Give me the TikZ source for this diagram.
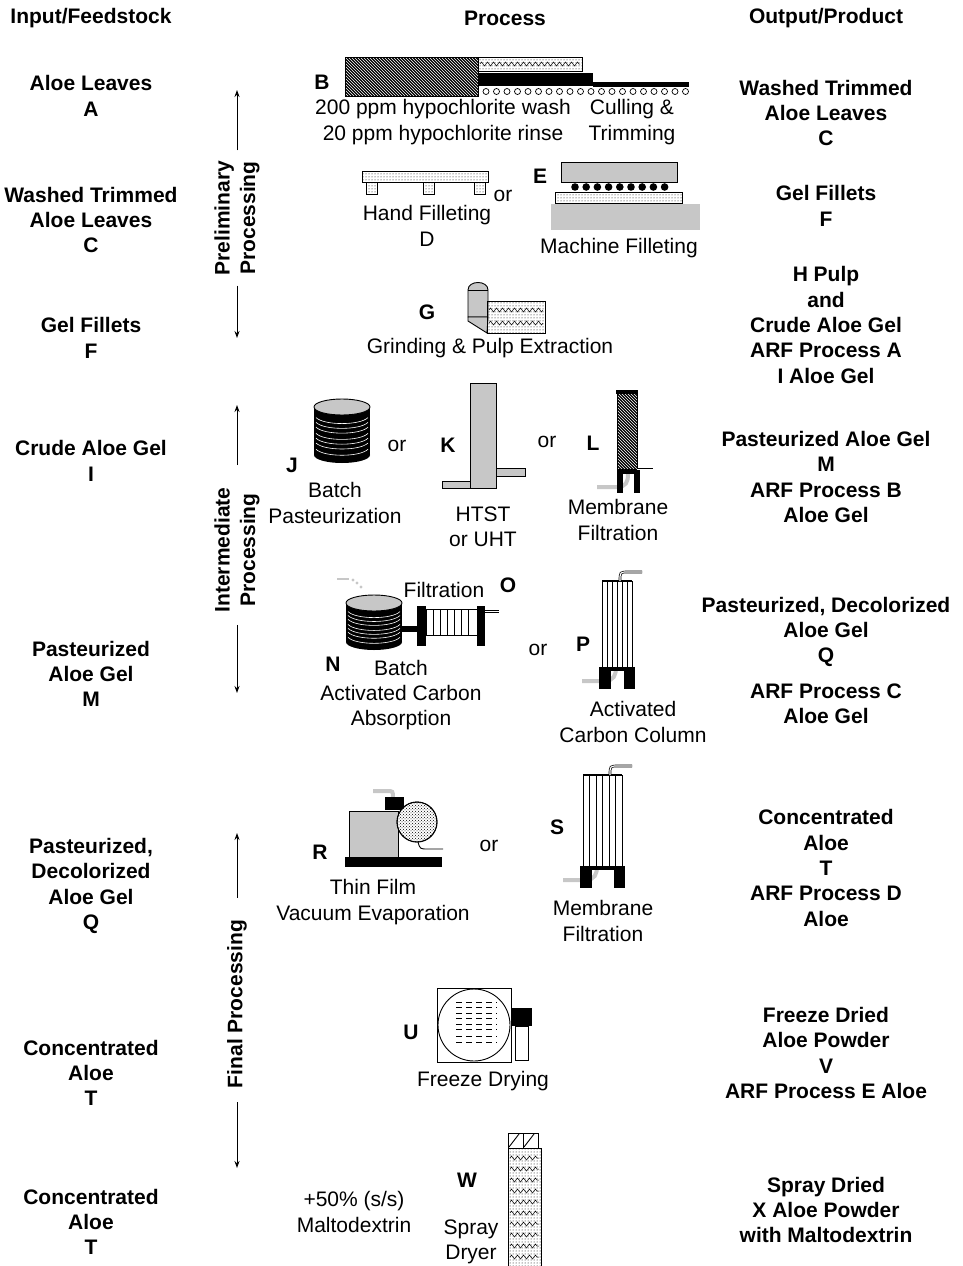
\documentclass[tikz,border=0pt]{standalone}
\usepackage{fontspec}
\setmainfont{Liberation Sans}
\usetikzlibrary{patterns,decorations.pathmorphing,arrows.meta}
\definecolor{eqgray}{gray}{0.78}

\begin{document}
\begin{tikzpicture}[x=1pt, y=-1pt, line width=0.9pt, >={Stealth[length=7pt,width=5pt]},
    txt/.style = {align=center, inner sep=0pt, font=\fontsize{21}{25.3}\selectfont},
    bold/.style = {txt, font=\fontsize{21}{25.3}\selectfont\bfseries},
    stage/.style = {bold, rotate=90},
    zz/.style = {decorate, decoration={zigzag, segment length=6pt, amplitude=2pt}, line width=0.5pt}]

    \useasboundingbox (0,0) rectangle (962,1266);

    % column heads
    \node[bold] (hIn) at (91,18) {Input/Feedstock};
    \node[bold] (hPr) at (505,18) {Process};
    \node[bold] (hOut) at (826,18) {Output/Product};

    % inputs
    \node[bold] (inA) at (91,96) {Aloe Leaves\\A};
    \node[bold] (inC) at (91,220) {Washed Trimmed\\Aloe Leaves\\C};
    \node[bold] (inF) at (91,338) {Gel Fillets\\F};
    \node[bold] (inI) at (91,461) {Crude Aloe Gel\\I};
    \node[bold] (inM) at (91,674) {Pasteurized\\Aloe Gel\\M};
    \node[bold] (inQ) at (91,886) {Pasteurized,\\Decolorized\\Aloe Gel\\Q};
    \node[bold] (inT) at (91,1073) {Concentrated\\Aloe\\T};
    \node[bold] (inTb) at (91,1222) {Concentrated\\Aloe\\T};

    % outputs
    \node[bold] (outC) at (826,113) {Washed Trimmed\\Aloe Leaves\\C};
    \node[bold] (outF) at (826,206) {Gel Fillets\\F};
    \node[bold] (outI) at (826,325) {H Pulp\\and\\Crude Aloe Gel\\ARF Process A\\I Aloe Gel};
    \node[bold] (outM) at (826,477) {Pasteurized Aloe Gel\\M\\ARF Process B\\Aloe Gel};
    \node[bold] (outQ) at (826,632) {Pasteurized, Decolorized\\Aloe Gel\\Q};
    \node[bold] (outQb) at (826,704) {ARF Process C\\Aloe Gel};
    \node[bold] (outT) at (826,868) {Concentrated\\Aloe\\T\\ARF Process D\\Aloe};
    \node[bold] (outV) at (826,1053) {Freeze Dried\\Aloe Powder\\V\\ARF Process E Aloe};
    \node[bold] (outX) at (826,1210) {Spray Dried\\X Aloe Powder\\with Maltodextrin};

    % stages
    \node[stage] (stP) at (237,218) {Preliminary\\Processing};
    \node[stage] (stI) at (237,550) {Intermediate\\Processing};
    \node[stage] (stF) at (237,1004) {Final Processing};
    \coordinate (pU) at (237,90);
    \coordinate (pD) at (237,338);
    \coordinate (iU) at (237,405);
    \coordinate (iD) at (237,693);
    \coordinate (fU) at (237,833);
    \coordinate (fD) at (237,1168);
    \draw[->] ([yshift=10pt]stP.east) -- (pU);
    \draw[->] ([yshift=-10pt]stP.west) -- (pD);
    \draw[->] ([yshift=22pt]stI.east) -- (iU);
    \draw[->] ([yshift=-12pt]stI.west) -- (iD);
    \draw[->] ([yshift=22pt]stF.east) -- (fU);
    \draw[->] ([yshift=-14pt]stF.west) -- (fD);

    % B washing and trimming
    \node[bold] (lB) at (322,82) {B};
    \draw[preaction={fill=black}, pattern=north west lines, pattern color=white] (345,57) rectangle (478,96);
    \draw[pattern=dots] (478,57) rectangle (582,71);
    \draw[zz] (480,64) -- (580,64);
    \fill (478,73) rectangle (593,86);
    \fill (593,82) rectangle (689,87);
    \foreach \i in {0,...,19}
        \draw[line width=0.7pt] (486+\i*10.5,91.5) circle (3pt);
    \node[txt] (tB1) at (443,122) {200 ppm hypochlorite wash\\20 ppm hypochlorite rinse};
    \node[txt] (tB2) at (632,122) {Culling \&\\Trimming};

    % D hand filleting
    \draw[pattern=dots] (362,171) rectangle (488,182);
    \foreach \x in {366,423,474}
        \draw[pattern=dots] (\x,182) rectangle ++(11,12);
    \node[txt] (tD) at (427,226) {Hand Filleting\\D};
    \node[txt] (or1) at (503,196) {or};

    % E machine filleting
    \node[bold] (lE) at (540,176) {E};
    \draw[fill=eqgray] (561,162) rectangle (677,182);
    \foreach \i in {0,...,8}
        \fill (575+\i*11.2,187) circle (3.8pt);
    \draw[pattern=dots] (555,192) rectangle (682,203);
    \fill[eqgray] (551,204) rectangle (700,230);
    \node[txt] (tE) at (619,248) {Machine Filleting};

    % G grinding
    \node[bold] (lG) at (427,312) {G};
    \draw[fill=eqgray] (468,317) -- (468,290) .. controls (468,280) and (488,280) .. (488,290) -- (488,317) -- cycle;
    \draw (468,290) -- (488,290);
    \draw[fill=eqgray] (468,317) -- (468,321) -- (487,333) -- (488,317) -- cycle;
    \draw[pattern=dots] (487,301) rectangle (545,333);
    \draw[zz] (489,310) -- (543,310);
    \draw[zz] (489,323) -- (543,323);
    \node[txt] (tG) at (490,348) {Grinding \& Pulp Extraction};

    % J and N batch tanks
    \foreach \cx/\cy/\h in {342/407/48, 374/603/39} {
        \fill ({\cx-28},\cy) rectangle ({\cx+28},{\cy+\h});
        \fill (\cx,{\cy+\h}) ellipse [x radius=28pt, y radius=8pt];
        \foreach \f in {0.22,0.32,0.42,0.55,0.65,0.75,0.88}
            \draw[white, line width=0.6pt] ({\cx-26},{\cy+\f*\h}) .. controls ({\cx-18},{\cy+\f*\h+8}) and ({\cx+18},{\cy+\f*\h+8}) .. ({\cx+26},{\cy+\f*\h});
        \draw[fill=eqgray] (\cx,\cy) ellipse [x radius=28pt, y radius=8pt];
    }
    \node[bold] (lJ) at (292,465) {J};
    \node[txt] (tJ) at (335,503) {Batch\\Pasteurization};
    \node[txt] (or2) at (397,446) {or};

    % K HTST
    \draw[fill=eqgray] (470,383) rectangle (496,488);
    \draw[fill=eqgray] (442,481) rectangle (470,488);
    \draw[fill=eqgray] (496,468) rectangle (525,476);
    \node[bold] (lK) at (448,445) {K};
    \node[txt] (tK) at (483,527) {HTST\\or UHT};
    \node[txt] (or3) at (547,442) {or};

    % L membrane
    \draw[eqgray, line width=4pt] (597,487) -- (617,487) .. controls (626,487) and (628,482) .. (628,474);
    \draw[preaction={fill=black}, pattern=north west lines, pattern color=white] (617,392) rectangle (637,469);
    \fill (616,390) rectangle (638,394);
    \fill (617,469) rectangle (640,474);
    \fill (617,474) rectangle (623,493);
    \fill (634,474) rectangle (640,493);
    \draw[double, double distance=1pt, line width=0.6pt] (637,469) -- (653,469);
    \node[bold] (lL) at (593,443) {L};
    \node[txt] (tL) at (618,520) {Membrane\\Filtration};

    % N and O carbon and filtration
    \draw[eqgray, line width=2.5pt] (337,579) -- (349,579);
    \fill[eqgray] (353,580) circle (1.6pt) (357,583) circle (1.6pt) (361,587) circle (1.6pt);
    \fill (402,626) rectangle (417,632);
    \fill (417,606) rectangle (426,646);
    \fill (477,606) rectangle (485,646);
    \draw (426,609) rectangle (477,635);
    \foreach \x in {433,440,447,454,461,468}
        \draw (\x,609) -- (\x,635);
    \draw[double, double distance=1pt, line width=0.6pt] (485,611.5) -- (499,611.5);
    \node[txt] (tO) at (444,590) {Filtration};
    \node[bold] (lO) at (508,585) {O};
    \node[bold] (lN) at (333,664) {N};
    \node[txt] (tN) at (401,695) {Batch\\Activated Carbon\\Absorption};
    \node[txt] (or4) at (538,650) {or};

    % P and S columns
    \foreach \xl/\xr/\yt/\yb in {602/632/581/667, 583/622/775/866} {
        \draw[eqgray, line width=4pt] ({\xl-20},{\yb+14}) -- ({\xl+2},{\yb+14}) .. controls ({\xl+12},{\yb+14}) and ({\xl+14},{\yb+8}) .. ({\xl+14},\yb);
        \draw[fill=white] (\xl,\yt) rectangle (\xr,\yb);
        \foreach \k in {1,...,5}
            \draw ({\xl+\k*(\xr-\xl)/6},\yt) -- ({\xl+\k*(\xr-\xl)/6},\yb);
        \draw[line width=2.5pt] (\xl,\yt) -- (\xr,\yt);
        \draw[double, double distance=1.2pt, line width=0.7pt] ({\xr-12},\yt) .. controls ({\xr-12},{\yt-9}) .. ({\xr-4},{\yt-9}) -- ({\xr+10},{\yt-9});
        \fill ({\xl-3},\yb) rectangle ({\xr+3},{\yb+4});
        \fill ({\xl-3},\yb) rectangle ({\xl+9},{\yb+22});
        \fill ({\xr-8},\yb) rectangle ({\xr+3},{\yb+22});
    }
    \node[bold] (lP) at (583,644) {P};
    \node[txt] (tP) at (633,722) {Activated\\Carbon Column};

    % R evaporator
    \draw[eqgray, line width=4pt] (373,791) -- (387,791) .. controls (393,791) .. (393,798);
    \draw[fill=eqgray] (349,811) rectangle (398,857);
    \fill (345,857) rectangle (442,867);
    \fill (385,797) rectangle (404,810);
    \draw[fill=white] (417,822) circle (20pt);
    \draw[pattern=crosshatch dots] (417,822) circle (20pt);
    \draw (418,842) .. controls (420,849) .. (428,849) -- (443,849);
    \node[bold] (lR) at (320,852) {R};
    \node[txt] (tR) at (373,902) {Thin Film\\Vacuum Evaporation};
    \node[txt] (or5) at (489,846) {or};
    \node[bold] (lS) at (557,827) {S};
    \node[txt] (tS) at (603,921) {Membrane\\Filtration};

    % U freeze dryer
    \draw (437,988) rectangle (511,1062);
    \draw (474,1025) circle (36pt);
    \foreach \y in {1002,1007,1013,1018,1024,1029,1036,1042}
        \draw[line width=0.8pt, dash pattern=on 6pt off 4pt] (456,\y) -- (497,\y);
    \fill (512,1008) rectangle (532,1026);
    \draw (515,1026) rectangle (528,1060);
    \node[bold] (lU) at (411,1032) {U};
    \node[txt] (tU) at (483,1081) {Freeze Drying};

    % W spray dryer
    \draw (508,1133) rectangle (523,1148);
    \draw (523,1133) rectangle (538,1148);
    \draw (509,1147) -- (519,1134) (524,1147) -- (534,1134);
    \fill[pattern=dots] (508,1148) rectangle (541,1266);
    \draw (508,1266) -- (508,1148) -- (541,1148) -- (541,1266);
    \foreach \y in {1158,1169,...,1262}
        \draw[zz] (510,\y) -- (539,\y);
    \node[bold] (lW) at (467,1180) {W};
    \node[txt] (tW) at (471,1242) {Spray\\Dryer};
    \node[txt] (tMd) at (354,1212) {+50\% (s/s)\\Maltodextrin};

\end{tikzpicture}
\end{document}
